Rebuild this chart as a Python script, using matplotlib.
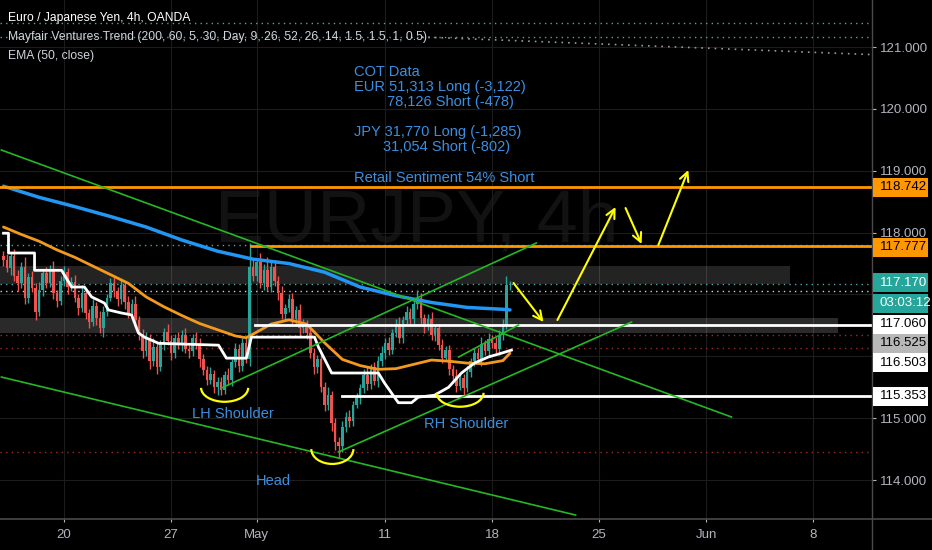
import numpy as np
import matplotlib.pyplot as plt
from matplotlib.patches import Arc, Rectangle

# 4h candles, bar 0 = first visible bar
first_open = 117.62
closes = [
    117.55, 117.42, 117.62, 117.30, 117.18, 117.45, 116.95, 117.28, 117.10, 116.72,
    117.08, 117.35, 117.18, 117.40, 117.02, 116.90, 117.22, 117.36, 117.12, 117.20,
    116.95, 116.78, 117.02, 116.70, 116.55, 116.82, 116.62, 116.45, 116.72, 116.95,
    117.18, 117.05, 116.92, 117.15, 116.88, 116.70, 116.85, 116.58, 116.35, 116.08,
    116.30, 115.92, 116.15, 115.82, 116.20, 116.40, 116.25, 116.05, 116.30, 116.18,
    116.35, 116.12, 116.08, 116.30, 116.18, 115.95, 115.78, 115.62, 115.72, 115.50,
    115.58, 115.45, 115.70, 115.62, 115.90, 116.12, 115.85, 116.22, 115.95, 117.45,
    117.30, 117.52, 117.18, 117.40, 117.12, 117.45, 117.22, 117.02, 116.68, 116.78,
    116.92, 116.60, 116.75, 116.45, 116.52, 116.38, 116.05, 115.82, 115.95, 115.50,
    115.22, 115.38, 114.92, 114.62, 114.55, 114.85, 115.02, 114.95, 115.22, 115.32,
    115.48, 115.70, 115.55, 115.82, 115.60, 115.92, 116.05, 116.22, 116.10, 116.38,
    116.52, 116.30, 116.58, 116.72, 116.60, 116.85, 116.95, 116.62, 116.48, 116.60,
    116.35, 116.45, 116.18, 115.98, 116.10, 115.80, 115.68, 115.52, 115.65, 115.48,
    115.75, 115.92, 116.05, 115.95, 116.20, 116.08, 116.28, 116.22, 116.12, 116.35,
    116.50, 117.15, 117.17,
]
up_wick = [
    .08, .10, .06, .12, .09, .07, .15, .06, .10, .08,
    .12, .05, .09, .07, .14, .06, .08, .10, .07, .09,
    .11, .06, .13, .08, .07, .10, .06, .12, .09, .05,
    .08, .11, .07, .09, .06, .10, .08, .12, .07, .09,
    .10, .06, .14, .08, .07, .05, .12, .09, .06, .10,
    .08, .11, .07, .06, .09, .12, .08, .07, .10, .06,
    .09, .08, .07, .11, .06, .10, .08, .07, .09, .38,
    .12, .06, .15, .09, .20, .07, .10, .08, .12, .06,
    .09, .11, .07, .10, .08, .06, .12, .09, .07, .10,
    .08, .12, .06, .09, .07, .10, .08, .11, .06, .09,
    .07, .10, .12, .06, .09, .08, .11, .07, .10, .06,
    .08, .12, .07, .09, .06, .10, .12, .08, .07, .09,
    .11, .06, .08, .10, .07, .09, .06, .12, .08, .07,
    .10, .06, .09, .08, .11, .07, .10, .06, .09, .08,
    .10, .15, .05,
]
down_wick = [
    .09, .06, .11, .08, .12, .07, .10, .09, .06, .14,
    .07, .10, .08, .06, .09, .11, .07, .08, .12, .06,
    .08, .12, .07, .10, .09, .06, .11, .08, .13, .07,
    .06, .09, .10, .07, .12, .08, .06, .10, .09, .11,
    .07, .13, .08, .10, .06, .09, .07, .11, .08, .06,
    .09, .07, .10, .08, .06, .12, .09, .08, .07, .10,
    .12, .08, .06, .09, .10, .07, .11, .08, .06, .10,
    .08, .09, .07, .10, .06, .08, .09, .11, .07, .10,
    .06, .09, .08, .12, .07, .10, .08, .11, .09, .07,
    .10, .08, .12, .14, .20, .09, .07, .10, .08, .06,
    .09, .07, .10, .08, .06, .09, .07, .10, .08, .06,
    .07, .09, .08, .06, .10, .07, .08, .09, .11, .06,
    .08, .10, .07, .09, .06, .10, .08, .09, .07, .11,
    .06, .09, .08, .07, .10, .06, .09, .08, .07, .10,
    .08, .06, .07,
]

# indicator lines (bar, price)
ema200_bars = [0, 10, 20, 30, 40, 50, 60, 70, 80, 90, 100, 110, 120, 130, 140, 142]
ema200_vals = [118.75, 118.57, 118.42, 118.26, 118.09, 117.88, 117.70, 117.57,
               117.50, 117.36, 117.12, 116.98, 116.87, 116.79, 116.76, 116.75]
ema50_bars = [0, 5, 10, 15, 20, 25, 30, 35, 40, 45, 50, 55, 60, 65, 68, 70, 75, 80,
              85, 90, 95, 100, 105, 110, 115, 120, 125, 130, 135, 140, 142]
ema50_vals = [118.09, 117.97, 117.86, 117.72, 117.60, 117.46, 117.32, 117.18, 116.96,
              116.80, 116.66, 116.53, 116.43, 116.33, 116.30, 116.36, 116.52, 116.59,
              116.52, 116.22, 115.95, 115.85, 115.79, 115.80, 115.87, 115.94, 115.92,
              115.89, 115.88, 115.93, 116.05]
trend_bars = [0, 1.4, 1.4, 8.7, 8.7, 16.3, 19.1, 22.7, 24.7, 28.3, 29.4, 33.1, 35.9,
              37.8, 39.5, 43.5, 60.3, 62.5, 68.1, 69.5, 87.2, 88.3, 92.0, 105.1, 106.8,
              110.7, 114.4, 116.3, 120.8, 124.8, 128.4, 132.0, 136.0, 139.6, 142.4]
trend_vals = [117.99, 117.99, 117.67, 117.67, 117.39, 117.39, 117.12, 117.12, 116.96,
              116.86, 116.75, 116.70, 116.67, 116.38, 116.31, 116.21, 116.18, 115.97,
              115.97, 116.31, 116.31, 116.15, 115.73, 115.73, 115.57, 115.25, 115.25,
              115.34, 115.37, 115.50, 115.73, 115.89, 115.99, 116.05, 116.10]

week_bars = [17, 47, 71, 107, 137, 167, 197, 227]
week_labels = ['20', '27', 'May', '11', '18', '25', 'Jun', '8']
price_ticks = [114, 115, 116, 117, 118, 119, 120, 121]
hidden_ticks = [116, 117]  # covered by the price labels in the original

# drawings
green_lines = [((-0.6, 119.335), (204.1, 115.019)),
               ((61.1, 115.487), (149.4, 117.832)),
               ((-0.6, 115.665), (160.4, 113.434)),
               ((93.9, 114.453), (176.1, 116.554)),
               ((127.6, 115.989), (144.4, 116.506))]
yellow_arrows = [((143.0, 117.185), (151.4, 116.555)),
                 ((155.3, 116.587), (171.6, 118.413)),
                 ((174.4, 118.397), (178.9, 117.815)),
                 ((183.6, 117.799), (192.0, 119.012))]
smiles = [(62.0, 115.49, 13.2, 0.45), (92.2, 114.50, 11.8, 0.48), (128.0, 115.41, 13.2, 0.45)]
pattern_labels = [(64.2, 115.067, 'LH Shoulder'), (75.7, 113.984, 'Head'),
                  (129.8, 114.906, 'RH Shoulder')]
cot_lines = [(98.4, 120.596, 'COT Data'),
             (98.4, 120.353, 'EUR 51,313 Long (-3,122)'),
             (107.4, 120.111, '78,126 Short (-478)'),
             (98.4, 119.626, 'JPY 31,770 Long (-1,285)'),
             (106.3, 119.383, '31,054 Short (-802)'),
             (98.4, 118.882, 'Retail Sentiment 54% Short')]

UP = '#26a69a'
DOWN = '#ef5350'
AXTXT = '#b2b5be'
BLUE_TXT = '#3b8fe0'

W, H = 932, 550
fig = plt.figure(figsize=(W / 100, H / 100), dpi=100, facecolor='black')
ax = fig.add_axes([0, 31 / H, 872 / W, 519 / H])
ax.set_facecolor('black')
ax.set_xlim(-0.98, 243.5)
ax.set_ylim(113.37, 121.76)

for s in ax.spines.values():
    s.set_visible(False)

ax.yaxis.tick_right()
ax.set_yticks(price_ticks)
ax.set_yticklabels(['' if p in hidden_ticks else f'{p:.3f}' for p in price_ticks],
                   family='Liberation Sans')
ax.set_xticks(week_bars)
ax.set_xticklabels(week_labels, family=['Liberation Sans Narrow', 'Liberation Sans'])
ax.tick_params(axis='y', colors=AXTXT, labelsize=9.5, length=3, pad=3, width=0.8)
ax.tick_params(axis='x', colors=AXTXT, labelsize=9.5, length=2.5, pad=4.5, width=0.8)
ax.grid(True, color='#1c1c1c', lw=0.8, zorder=0)
ax.set_axisbelow(True)

# watermark
ax.text(116.0, 118.17, 'EURJPY, 4h', color='#121212', fontsize=53,
        family='Liberation Sans', ha='center', va='center', zorder=0.5)

# shaded zones
ax.fill_between([-1, 220.5], 117.17, 117.46, color='white', alpha=0.14, lw=0, zorder=1)
ax.fill_between([-1, 234.0], 116.38, 116.62, color='white', alpha=0.17, lw=0, zorder=1)

# dotted reference lines
for p, c in [(121.388, '#4aa9a0'), (121.162, '#4aa9a0'), (117.80, '#4aa9a0'),
             (117.17, '#4aa9a0'), (117.06, '#cfcfcf'), (116.344, '#a02a2a'),
             (116.134, '#a02a2a'), (114.453, '#a02a2a')]:
    ax.axhline(p, color=c, lw=1, ls=(0, (1, 3)), zorder=1.5)
ax.plot([117.2, 243.5], [121.162, 120.877], color='#9a9a9a', lw=1.2, ls=(0, (1, 3)), zorder=1.5)

# candles
opens = np.array([first_open] + closes[:-1])
cl = np.array(closes)
highs = np.maximum(opens, cl) + np.array(up_wick)
lows = np.minimum(opens, cl) - np.array(down_wick)
idx = np.arange(len(cl))
cols = np.where(cl >= opens, UP, DOWN)
ax.vlines(idx, lows, highs, colors=cols, lw=1, zorder=2)
ax.bar(idx, np.maximum(np.abs(cl - opens), 0.012), bottom=np.minimum(opens, cl),
       width=0.72, color=cols, lw=0, zorder=2.5)

# indicators
ax.plot(ema200_bars, ema200_vals, color='#2196f3', lw=2.5, zorder=3, solid_capstyle='round')
ax.plot(ema50_bars, ema50_vals, color='#f39a1e', lw=2, zorder=3, solid_capstyle='round')
ax.plot(trend_bars, trend_vals, color='white', lw=2, zorder=3.2)

# horizontal levels
ax.plot([-1, 243.5], [118.742, 118.742], color='#ff9800', lw=2, zorder=4)
ax.plot([69.5, 243.5], [117.777, 117.777], color='#ff9800', lw=2, zorder=4)
ax.plot([70.4, 243.5], [116.503, 116.503], color='white', lw=2, zorder=4)
ax.plot([94.8, 243.5], [115.353, 115.353], color='white', lw=2, zorder=4)

# trendlines
for (x0, y0), (x1, y1) in green_lines:
    ax.plot([x0, x1], [y0, y1], color='#25b825', lw=1.2, zorder=4)

# head and shoulders marks
for cx, cy, w, h in smiles:
    ax.add_patch(Arc((cx, cy), w, h, theta1=180, theta2=360, color='#ffff00', lw=1.6, zorder=4.5))
for (x0, y0), (x1, y1) in yellow_arrows:
    ax.annotate('', xy=(x1, y1), xytext=(x0, y0),
                arrowprops=dict(arrowstyle='->', color='#ffff00', lw=1.5,
                                mutation_scale=16, shrinkA=0, shrinkB=0), zorder=4.5)

for x, y, t in pattern_labels:
    ax.text(x, y, t, color=BLUE_TXT, fontsize=10.5, family='Liberation Sans',
            ha='center', va='center', zorder=5)
for x, y, t in cot_lines:
    ax.text(x, y, t, color=BLUE_TXT, fontsize=10.5, family='Liberation Sans',
            ha='left', va='center', zorder=5)

# legend lines top-left
for i, t in enumerate(['Euro / Japanese Yen, 4h, OANDA',
                       'Mayfair Ventures Trend (200, 60, 5, 30, Day, 9, 26, 52, 26, 14, 1.5, 1.5, 1, 0.5)',
                       'EMA (50, close)']):
    ax.text(0.009, 1 - (18 + 19 * i) / 519, t, transform=ax.transAxes,
            color='white' if i == 0 else '#d1d4dc',
            fontsize=8.7, family='Liberation Sans', ha='left', va='center', zorder=6)

# axis separators
fig.add_artist(plt.Line2D([872 / W, 872 / W], [0, 1], color='#4a4a4a', lw=1))
fig.add_artist(plt.Line2D([0, 1], [31 / H, 31 / H], color='#4a4a4a', lw=1.2))

# price labels on the scale
boxes = [(187.5, '118.742', '#ff9800', 'black'),
         (247.0, '117.777', '#ff9800', 'black'),
         (282.5, '117.170', UP, 'white'),
         (303.5, '03:03:12', UP, 'white'),
         (324.0, '117.060', 'white', 'black'),
         (343.0, '116.525', '#b8b8b8', 'black'),
         (362.5, '116.503', 'white', 'black'),
         (396.0, '115.353', 'white', 'black')]
for yc, t, fc, tc in boxes:
    fig.add_artist(Rectangle((873 / W, 1 - (yc + 9.5) / H), 55 / W, 19 / H,
                             transform=fig.transFigure, facecolor=fc, edgecolor='none', zorder=10))
    fig.text(880 / W, 1 - yc / H, t, color=tc, fontsize=9.5, family='Liberation Sans',
             ha='left', va='center', zorder=11)

fig.savefig('out.png', dpi=100, facecolor='black')
